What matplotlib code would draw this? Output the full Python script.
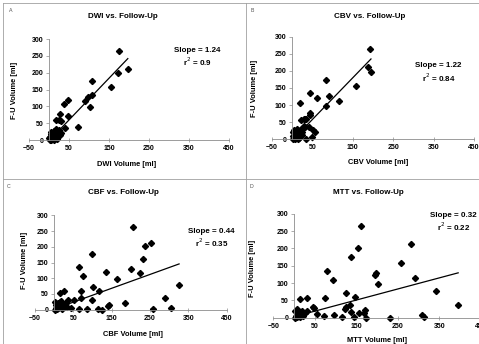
import numpy as np
import matplotlib.pyplot as plt
from matplotlib.lines import Line2D

plt.rcParams['font.family'] = ['Liberation Sans', 'DejaVu Sans']

# values (x = acute volume, y = follow-up volume, ml)
dwi_x = [175, 173, 197, 155, 108, 108, 97, 90, 102, 48, 37, 73, 48, 27, 25, 18, 31, 40,
         2, 3, 5, 4, 6, 8, 10, 12, 7, 9, 11, 14, 15, 16, 18, 20, 22, 13, 10, 5, 3, 25, 28, 6, 17, 24, 1, 12, 20, 30]
dwi_y = [265, 200, 212, 158, 175, 135, 128, 115, 97, 120, 106, 38, 70, 77, 58, 58, 57, 35,
         0, 2, 1, 5, 8, 3, 5, 10, 12, 15, 2, 6, 15, 20, 8, 12, 25, 28, 22, 18, 10, 20, 15, 25, 32, 30, 5, 0, 2, 22]

cbv_x = [193, 187, 195, 158, 116, 91, 84, 61, 44, 83, 20, 45, 45, 23, 28, 32, 35, 31, 42, 52, 56, 48, 34,
         2, 4, 6, 3, 8, 10, 12, 14, 16, 18, 20, 22, 25, 5, 7, 9, 11, 15, 19, 24, 28, 1, 13, 17, 30]
cbv_y = [263, 210, 198, 156, 113, 127, 173, 120, 134, 97, 107, 78, 71, 57, 58, 59, 59, 37, 37, 27, 20, 6, 0,
         0, 3, 1, 10, 5, 15, 8, 20, 12, 25, 18, 30, 22, 28, 17, 6, 26, 2, 10, 14, 35, 21, 31, 4, 40]

cbf_x = [206, 253, 236, 231, 225, 200, 100, 64, 75, 136, 165, 102, 117, 70, 70, 100, 326, 288, 305, 258,
         185, 142, 140, 115, 125, 87, 64, 51, 36, 25, 15, 19, 34, 45,
         2, 4, 6, 8, 10, 12, 14, 16, 20, 22, 28, 3, 9, 18, 26, 30]
cbf_y = [264, 213, 201, 160, 117, 128, 176, 135, 106, 120, 98, 71, 59, 59, 37, 30, 78, 37, 5, 2,
         21, 14, 11, 2, 0, 2, 2, 30, 30, 59, 53, 21, 9, 5,
         0, 5, 15, 2, 20, 8, 25, 12, 3, 18, 10, 24, 6, 28, 14, 22]

mtt_x = [162, 154, 138, 281, 257, 194, 196, 201, 292, 80, 94, 341, 395, 124, 146, 74, 32, 14,
         135, 126, 122, 138, 168, 170, 172, 230, 309, 313, 95, 72, 116, 145, 156, 54, 48, 45, 32, 26,
         2, 4, 6, 8, 10, 12, 3, 15, 18, 20, 7, 22]
mtt_y = [264, 201, 175, 212, 159, 122, 129, 98, 115, 135, 108, 77, 36, 71, 60, 57, 57, 53,
         38, 31, 26, 16, 14, 21, 0, 0, 7, 1, 9, 4, 2, 2, 14, 12, 28, 31, 18, 13,
         0, 5, 24, 2, 15, 8, 20, 3, 10, 18, 12, 6]

# trendline slope / intercept and r^2 as printed
slopes = [1.24, 1.22, 0.44, 0.32]
intercepts = [-2.5, -3.0, 2.0, 3.0]
r2_text = ['0.9', '0.84', '0.35', '0.22']
titles = ['DWI vs. Follow-Up', 'CBV vs. Follow-Up', 'CBF vs. Follow-Up', 'MTT vs. Follow-Up']
xlabels = ['DWI Volume [ml]', 'CBV Volume [ml]', 'CBF Volume [ml]', 'MTT Volume [ml]']
letters = ['A', 'B', 'C', 'D']
x_ticks = [-50, 50, 150, 250, 350, 450]
y_ticks = [0, 50, 100, 150, 200, 250, 300]

W, H = 479, 344
fig = plt.figure(figsize=(W / 100, H / 100), dpi=100)


def px_rect(x0, x1, y_bottom, y_top):
    # pixel coords (from top-left) -> figure fraction rect
    return [x0 / W, 1 - y_bottom / H, (x1 - x0) / W, (y_bottom - y_top) / H]


# plot areas, pixel positions of x=-50..450 and y=0..300
rects = [px_rect(29, 229, 140, 39),
         px_rect(272, 474, 139.3, 36.7),
         px_rect(35, 226.6, 309.7, 215.3),
         px_rect(273.4, 481, 317.7, 213.7)]
title_pos = [(123, 16), (370, 16), (123, 193), (368, 192)]
ylab_pos = [(15, 90), (255, 88), (24, 260), (252, 268)]
xlab_pos = [(127, 164), (378, 163), (133, 334), (377, 340)]
letter_pos = [(11, 10), (252, 10), (9, 187), (252, 187)]
stat_pos = [(370, 265, 232), (362, 215, 181), (411, 249, 213), (383, 295, 262)]

data = [(dwi_x, dwi_y), (cbv_x, cbv_y), (cbf_x, cbf_y), (mtt_x, mtt_y)]

for i, (xs, ys) in enumerate(data):
    ax = fig.add_axes(rects[i])
    ax.set_xlim(-50, 450)
    ax.set_ylim(0, 300)
    ax.plot(xs, ys, linestyle='none', marker='D', markersize=3.1, color='black', clip_on=False)

    # trendline over the data range
    xx = np.array([min(xs), max(xs)])
    ax.plot(xx, slopes[i] * xx + intercepts[i], color='black', linewidth=0.9)

    ax.spines['top'].set_visible(False)
    ax.spines['right'].set_visible(False)
    ax.spines['left'].set_position(('data', 0))
    for s in ['left', 'bottom']:
        ax.spines[s].set_color('#8c8c8c')
        ax.spines[s].set_linewidth(0.6)
    ax.set_xticks(x_ticks)
    ax.set_yticks(y_ticks)
    ax.tick_params(axis='x', direction='inout', length=3, width=0.5, color='#8c8c8c', pad=2, labelsize=5)
    ax.tick_params(axis='y', direction='out', length=2, width=0.5, color='#8c8c8c', pad=2, labelsize=5)
    for lab in ax.get_xticklabels() + ax.get_yticklabels():
        lab.set_fontweight('bold')
    ax.patch.set_visible(False)

    ax.text(stat_pos[i][0], stat_pos[i][1], 'Slope = %.2f' % slopes[i], ha='center', va='center',
            fontsize=5.8, fontweight='bold', clip_on=False)
    ax.text(stat_pos[i][0], stat_pos[i][2], 'r$^2$ = ' + r2_text[i], ha='center', va='center',
            fontsize=5.8, fontweight='bold', clip_on=False)

    tx, ty = title_pos[i]
    fig.text(tx / W, 1 - ty / H, titles[i], ha='center', va='center', fontsize=5.8, fontweight='bold')
    lx, ly = xlab_pos[i]
    fig.text(lx / W, 1 - ly / H, xlabels[i], ha='center', va='center', fontsize=5.4, fontweight='bold')
    yx, yy = ylab_pos[i]
    fig.text(yx / W, 1 - yy / H, 'F-U Volume [ml]', ha='center', va='center', rotation=90,
             fontsize=5.4, fontweight='bold')
    cx, cy = letter_pos[i]
    fig.text(cx / W, 1 - cy / H, letters[i], ha='center', va='center', fontsize=3.8, color='#555555')

# panel frame lines
frame = '#a0a0a0'
for x in [2.5, 246]:
    fig.add_artist(Line2D([x / W, x / W], [0, 1 - 2.5 / H], color=frame, linewidth=0.6))
for y in [2.5, 179]:
    fig.add_artist(Line2D([2.5 / W, 1], [1 - y / H, 1 - y / H], color=frame, linewidth=0.6))

fig.savefig('out.png', dpi=100)
